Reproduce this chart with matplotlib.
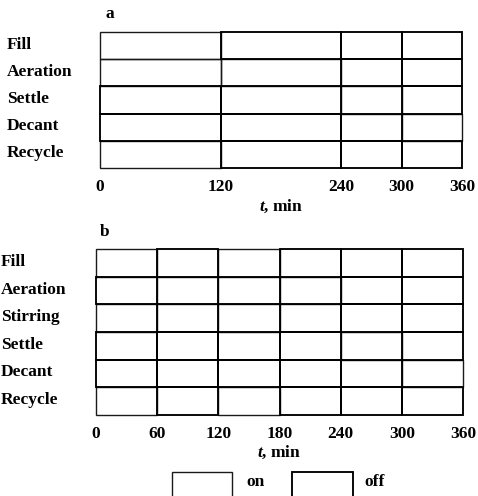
import matplotlib
matplotlib.use("Agg")
import matplotlib.pyplot as plt
from matplotlib.patches import Rectangle

# Operating schedules (1 = on, 0 = off) for each phase
stages_a = ["Fill", "Aeration", "Settle", "Decant", "Recycle"]
bounds_a = [0, 120, 240, 300, 360]
state_a = [
    [1, 0, 0, 0],
    [1, 1, 0, 0],
    [0, 0, 1, 0],
    [0, 0, 0, 1],
    [1, 0, 0, 0],
]

stages_b = ["Fill", "Aeration", "Stirring", "Settle", "Decant", "Recycle"]
bounds_b = [0, 60, 120, 180, 240, 300, 360]
state_b = [
    [1, 0, 1, 0, 0, 0],
    [0, 1, 0, 1, 0, 0],
    [1, 0, 1, 0, 0, 0],
    [0, 0, 0, 0, 1, 0],
    [0, 0, 0, 0, 0, 1],
    [1, 0, 1, 0, 0, 0],
]

SERIF = "Liberation Serif"
FS = 12.5
plt.rcParams["font.family"] = SERIF
plt.rcParams["font.weight"] = "bold"
plt.rcParams["mathtext.fontset"] = "custom"
plt.rcParams["mathtext.it"] = "Liberation Serif:italic:bold"
plt.rcParams["mathtext.rm"] = "Liberation Serif:bold"

ON_STYLE = dict(edgecolor="#1a1a1a", linewidth=1.0)
OFF_STYLE = dict(edgecolor="black", linewidth=1.35)

W, H = 478, 496
fig = plt.figure(figsize=(W / 100, H / 100), dpi=100)


def px_axes(left, top, right, bottom):
    return fig.add_axes([left / W, 1 - bottom / H, (right - left) / W, (bottom - top) / H])


def draw_schedule(ax, stages, bounds, states, pad):
    n = len(stages)
    for on_pass in (1, 0):
        for i, row in enumerate(states):
            for j, s in enumerate(row):
                if s != on_pass:
                    continue
                style = ON_STYLE if s else OFF_STYLE
                ax.add_patch(Rectangle((bounds[j], i), bounds[j + 1] - bounds[j], 1,
                                       facecolor="none", clip_on=False,
                                       zorder=2 if s == 0 else 1, **style))
    ax.set_xlim(bounds[0], bounds[-1])
    ax.set_ylim(n, 0)
    ax.set_xticks(bounds)
    ax.set_xticklabels([str(b) for b in bounds], fontsize=FS, fontweight="bold")
    ax.tick_params(axis="x", length=0, pad=pad)
    ax.set_yticks([])
    for sp in ax.spines.values():
        sp.set_visible(False)
    ax.set_facecolor("none")


# Panel a
ax_a = px_axes(100, 32, 462, 168)
draw_schedule(ax_a, stages_a, bounds_a, state_a, pad=8)
for i, name in enumerate(stages_a):
    y = 32 + (i + 0.5) * (168 - 32) / len(stages_a)
    fig.text(7 / W, 1 - (y - 1) / H, name, fontsize=FS, fontweight="bold",
             ha="left", va="center")
fig.text(110 / W, 1 - 14 / H, "a", fontsize=FS, fontweight="bold", ha="center", va="center")
fig.text(281 / W, 1 - 206 / H, r"$t$, min", fontsize=FS, ha="center", va="center")

# Panel b
ax_b = px_axes(96, 249, 463, 415)
draw_schedule(ax_b, stages_b, bounds_b, state_b, pad=8)
for i, name in enumerate(stages_b):
    y = 249 + (i + 0.5) * (415 - 249) / len(stages_b)
    fig.text(1 / W, 1 - (y - 1) / H, name, fontsize=FS, fontweight="bold",
             ha="left", va="center")
fig.text(105 / W, 1 - 232 / H, "b", fontsize=FS, fontweight="bold", ha="center", va="center")
fig.text(279 / W, 1 - 452 / H, r"$t$, min", fontsize=FS, ha="center", va="center")

# Legend boxes
fig.patches.append(Rectangle((172 / W, 1 - 498 / H), 60 / W, 26 / H, facecolor="none",
                             transform=fig.transFigure, figure=fig, **ON_STYLE))
fig.text(246 / W, 1 - 482 / H, "on", fontsize=FS, fontweight="bold", ha="left", va="center")
fig.patches.append(Rectangle((292 / W, 1 - 498 / H), 61 / W, 26 / H, facecolor="none",
                             transform=fig.transFigure, figure=fig, **OFF_STYLE))
fig.text(364 / W, 1 - 482 / H, "off", fontsize=FS, fontweight="bold", ha="left", va="center")

fig.savefig("out.png", dpi=100)
